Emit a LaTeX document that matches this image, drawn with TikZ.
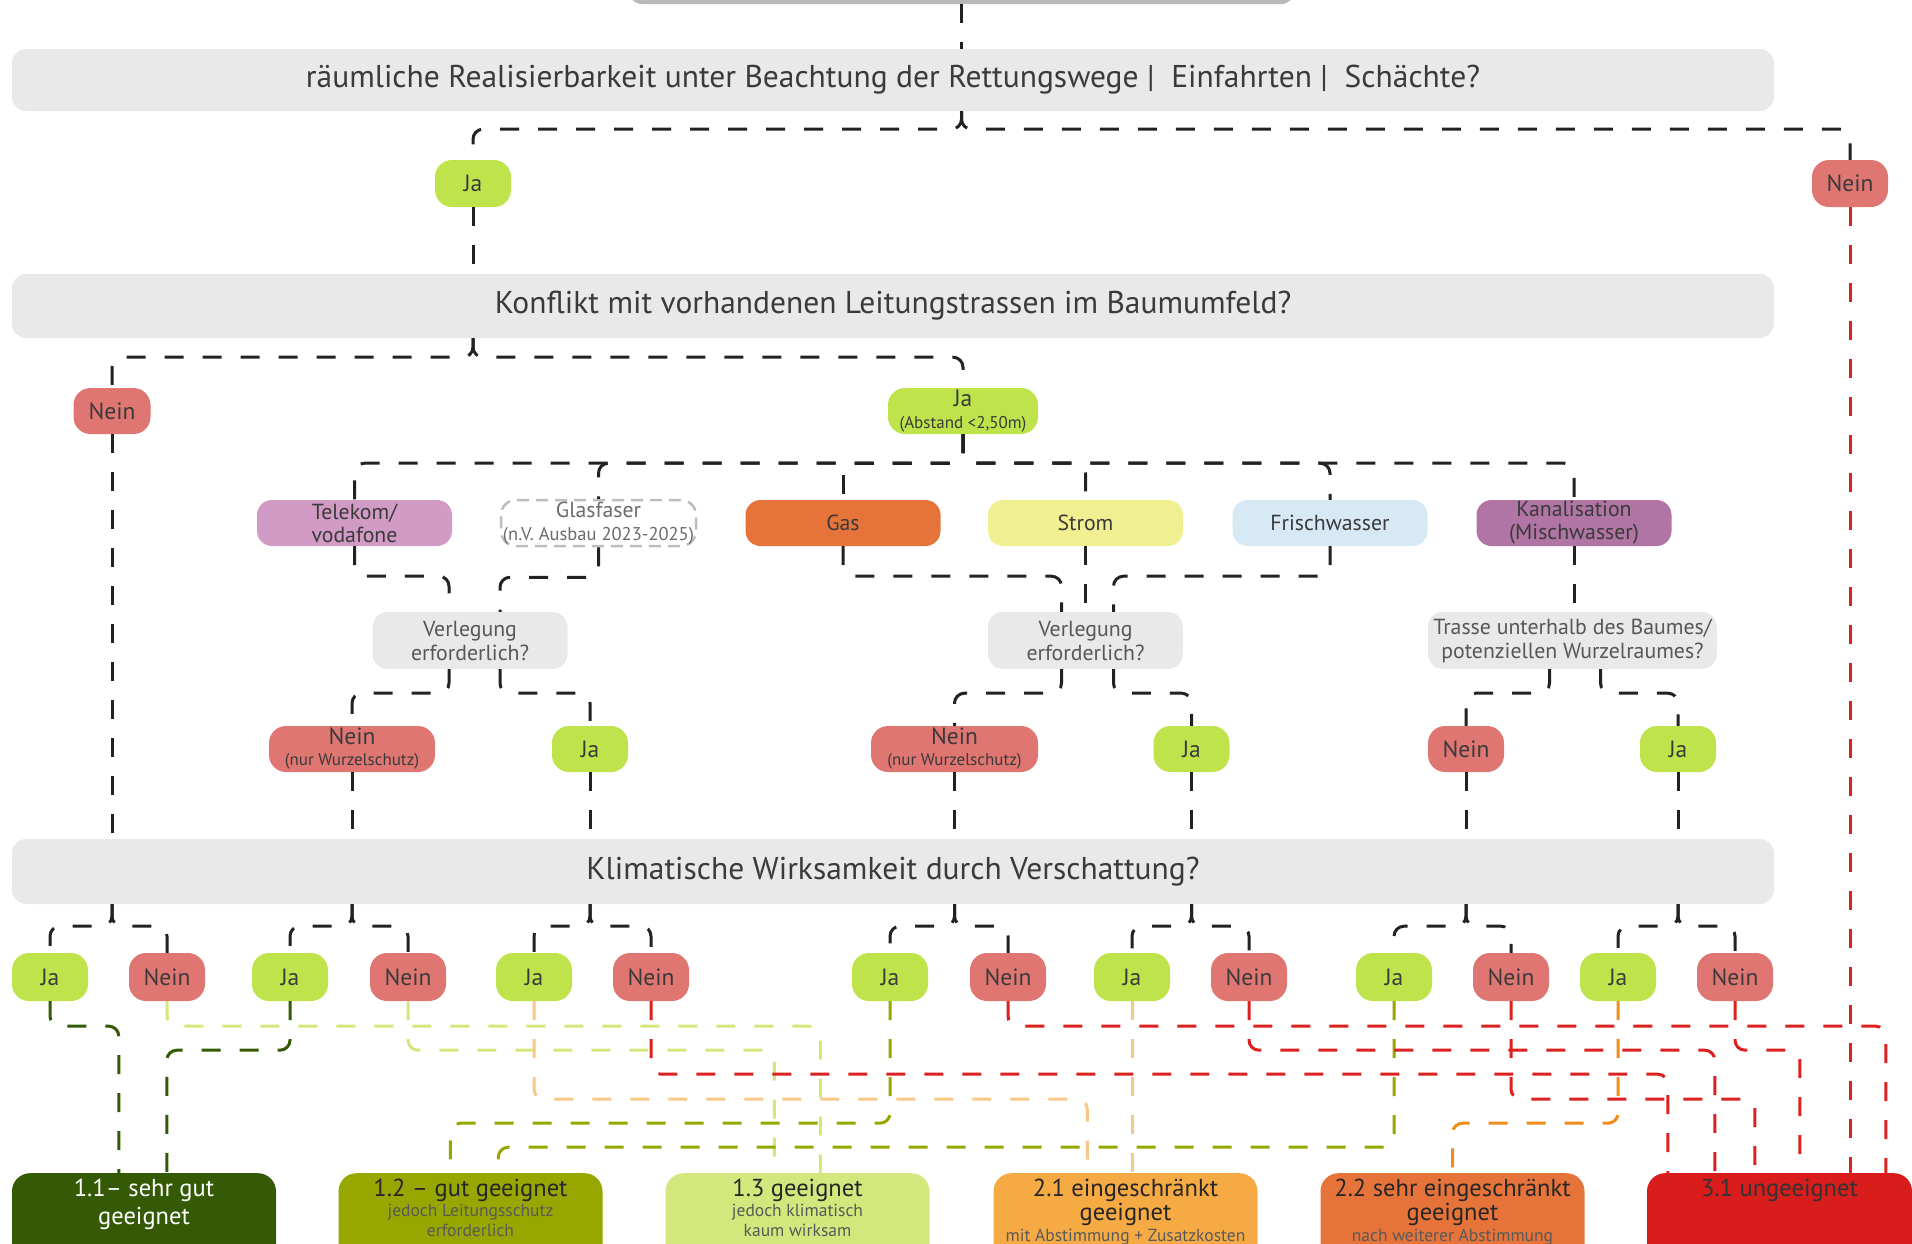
\documentclass[tikz,border=0pt]{standalone}
\usepackage{fontspec}
\setmainfont{PT Sans}
\usetikzlibrary{calc}
\definecolor{cgray}{HTML}{E9E9E9}
\definecolor{ctop}{HTML}{B8B8B8}
\definecolor{cja}{HTML}{BFE34B}
\definecolor{cnein}{HTML}{E07672}
\definecolor{ctel}{HTML}{D29BC5}
\definecolor{cgas}{HTML}{E6743A}
\definecolor{cstrom}{HTML}{F0EF91}
\definecolor{cfrisch}{HTML}{D7E9F5}
\definecolor{ckanal}{HTML}{B075A4}
\definecolor{cglas}{HTML}{BDBDBD}
\definecolor{rA}{HTML}{345A05}
\definecolor{rB}{HTML}{97A700}
\definecolor{rC}{HTML}{D2E87C}
\definecolor{rD}{HTML}{F5AA43}
\definecolor{rE}{HTML}{E6743A}
\definecolor{rF}{HTML}{D91C1C}
\definecolor{lorange}{HTML}{F8C887}
\definecolor{dorange}{HTML}{EF8C1C}
\definecolor{lred}{HTML}{DD2020}
\definecolor{cline}{HTML}{222222}
\definecolor{txt}{HTML}{3A3A3A}
\newcommand\fhead{\fontsize{31.5}{36}\selectfont}
\newcommand\fyn{\fontsize{23.5}{27}\selectfont}
\newcommand\futil{\fontsize{21.8}{25}\selectfont}
\newcommand\fsm{\fontsize{17}{20}\selectfont}
\newcommand\fressub{\fontsize{17.5}{20}\selectfont}
\newcommand\restext[2]{\parbox[t][110pt][t]{262pt}{\centering\fontsize{24.5}{#2}\selectfont\vspace*{6pt}#1\par}}
\begin{document}
\begin{tikzpicture}[x=1pt,y=-1pt,
  base/.style={rounded corners=14pt, inner sep=0pt, align=center, text=txt},
  head/.style={base, fill=cgray, minimum width=1762pt, font=\fhead},
  yn/.style={base, minimum width=76pt, minimum height=47pt, rounded corners=17pt, font=\fyn},
  yes/.style={yn, fill=cja},
  no/.style={yn, fill=cnein},
  util/.style={base, minimum width=195pt, minimum height=46pt, rounded corners=15pt, font=\futil},
  quest/.style={base, fill=cgray, minimum height=57pt, rounded corners=15pt, font=\futil, text=txt!85},
  res/.style={base, anchor=north, minimum width=264pt, rounded corners=18pt},
  conn/.style={draw=cline, line width=3pt, dash pattern=on 19pt off 19pt, rounded corners=10pt},
  cdg/.style={conn, draw=rA},
  clg/.style={conn, draw=rC},
  cog/.style={conn, draw=rB},
  clo/.style={conn, draw=lorange},
  cor/.style={conn, draw=dorange},
  cre/.style={conn, draw=lred}]
\useasboundingbox (0,0) rectangle (1912,1243);
\clip (0,0) rectangle (1912,1243);

% nodes
\node[base, fill=ctop, minimum width=667pt, minimum height=40pt] (top) at (961.5,-16) {};
\node[head, minimum height=62pt] (A) at (893,80) {räumliche Realisierbarkeit unter Beachtung der Rettungswege |\ \ Einfahrten |\ \ Schächte?};
\node[yes] (ja1) at (473,183.5) {Ja};
\node[no] (nein1) at (1850,183.5) {Nein};
\node[head, minimum height=64pt] (B) at (893,306) {Konflikt mit vorhandenen Leitungstrassen im Baumumfeld?};
\node[no, minimum width=77pt, minimum height=46pt] (nein2) at (112,411) {Nein};
\node[yes, minimum width=150pt, minimum height=46pt] (jaA) at (963,411) {Ja\\[-5pt]{\fsm (Abstand <2,50m)}};

\node[util, fill=ctel] (tel) at (354.5,523) {Telekom/\\[-2pt]vodafone};
\node[util, fill=white, draw=cglas, line width=2.5pt, dash pattern=on 12pt off 7pt, text=txt!75] (glas) at (598.5,523) {Glasfaser\\[-2pt]{\fontsize{18.5}{21}\selectfont(n.V. Ausbau 2023-2025)}};
\node[util, fill=cgas] (gas) at (843,523) {Gas};
\node[util, fill=cstrom] (strom) at (1085.5,523) {Strom};
\node[util, fill=cfrisch] (frisch) at (1330,523) {Frischwasser};
\node[util, fill=ckanal] (kanal) at (1574,523) {Kanalisation\\[-2pt](Mischwasser)};

\node[quest, minimum width=195pt] (verlL) at (470,640.5) {Verlegung\\[-1pt]erforderlich?};
\node[quest, minimum width=195pt] (verlR) at (1085.5,640.5) {Verlegung\\[-1pt]erforderlich?};
\node[quest, minimum width=289pt] (trasse) at (1572.5,640.5) {Trasse unterhalb des Baumes/\\[-1pt]potenziellen Wurzelraumes?};

\node[no, minimum width=166pt, minimum height=46pt] (nwL) at (352,749) {Nein\\[-6pt]{\fsm (nur Wurzelschutz)}};
\node[yes, minimum height=46pt] (jaL) at (590,749) {Ja};
\node[no, minimum width=167pt, minimum height=46pt] (nwR) at (954.5,749) {Nein\\[-6pt]{\fsm (nur Wurzelschutz)}};
\node[yes, minimum height=46pt] (jaR) at (1191.5,749) {Ja};
\node[no, minimum height=46pt] (nT) at (1466,749) {Nein};
\node[yes, minimum height=46pt] (jT) at (1678,749) {Ja};

\node[head, minimum height=65pt] (C) at (893,871.5) {Klimatische Wirksamkeit durch Verschattung?};

\foreach \n/\x/\s/\t in {b1j/50/yes/Ja, b1n/167/no/Nein, b2j/290/yes/Ja, b2n/408/no/Nein, b3j/534/yes/Ja, b3n/651/no/Nein, b4j/890/yes/Ja, b4n/1008/no/Nein, b5j/1132/yes/Ja, b5n/1249/no/Nein, b6j/1394/yes/Ja, b6n/1511/no/Nein, b7j/1618/yes/Ja, b7n/1735/no/Nein}
  {\node[\s, minimum height=48pt] (\n) at (\x,977) {\t};}

\node[res, fill=rA, text=white] (r11) at (144,1173) {\restext{1.1– sehr gut\\geeignet}{28}};
\node[res, fill=rB, text=black!85] (r12) at (470.5,1173) {\restext{1.2 – gut geeignet\\{\fressub\color{black!65}jedoch Leitungsschutz\\erforderlich}}{20}};
\node[res, fill=rC, text=black!85] (r13) at (797.5,1173) {\restext{1.3 geeignet\\{\fressub\color{black!65}jedoch klimatisch\\kaum wirksam}}{20}};
\node[res, fill=rD, text=black!85] (r21) at (1125.5,1173) {\restext{2.1 eingeschränkt\\geeignet\\{\fressub\color{black!65}mit Abstimmung + Zusatzkosten}}{21.5}};
\node[res, fill=rE, text=black!85] (r22) at (1452.5,1173) {\restext{2.2 sehr eingeschränkt\\geeignet\\{\fressub\color{black!65}nach weiterer Abstimmung}}{21.5}};
\node[res, fill=rF, text=black!80, minimum width=265pt] (r31) at (1779.5,1173) {\restext{3.1 ungeeignet}{28}};

% black connectors
\draw[conn] (top.south) -- (top.south |- A.north);
\draw[conn] (top.south |- A.south) -- ++(0,18) -| (ja1.north);
\draw[conn] (top.south |- A.south) -- ++(0,18) -| (nein1.north);
\draw[conn] (ja1.south) -- (ja1.south |- B.north);
\draw[conn] (ja1.south |- B.south) -- ++(0,19) -| (nein2.north);
\draw[conn] (ja1.south |- B.south) -- ++(0,19) -| (jaA.north);
\draw[conn] (nein2.south) -- (nein2.south |- C.north);
\foreach \u in {tel,glas,gas,strom,frisch,kanal}
  {\draw[conn] (jaA.south) -- ++(0,29) -| (\u.north);}
\draw[conn] (tel.south) -- ++(0,30) -| ($(verlL.north)+(-21,0)$);
\draw[conn] (glas.south) -- ++(0,30) -| ($(verlL.north)+(30,0)$);
\draw[conn] (gas.south) -- ++(0,30) -| ($(verlR.north)+(-24,0)$);
\draw[conn] (strom.south) -- (verlR.north);
\draw[conn] (frisch.south) -- ++(0,30) -| ($(verlR.north)+(28,0)$);
\draw[conn] (kanal.south) -- (kanal.south |- trasse.north);
\draw[conn] ($(verlL.south)+(-21,0)$) -- ++(0,24) -| (nwL.north);
\draw[conn] ($(verlL.south)+(30,0)$) -- ++(0,24) -| (jaL.north);
\draw[conn] ($(verlR.south)+(-24,0)$) -- ++(0,24) -| (nwR.north);
\draw[conn] ($(verlR.south)+(28,0)$) -- ++(0,24) -| (jaR.north);
\draw[conn] ($(trasse.south)+(-23,0)$) -- ++(0,24) -| (nT.north);
\draw[conn] ($(trasse.south)+(28,0)$) -- ++(0,24) -| (jT.north);
\foreach \p in {nwL,jaL,nwR,jaR,nT,jT}
  {\draw[conn] (\p.south) -- (\p.south |- C.north);}
\foreach \p/\a/\b in {nein2/b1j/b1n, nwL/b2j/b2n, jaL/b3j/b3n, nwR/b4j/b4n, jaR/b5j/b5n, nT/b6j/b6n, jT/b7j/b7n}
  {\draw[conn] (\p.south |- C.south) -- ++(0,22) -| (\a.north);
   \draw[conn] (\p.south |- C.south) -- ++(0,22) -| (\b.north);}

% coloured connectors
\draw[cdg] (b1j.south) -- ++(0,25) -| ($(r11.north west)+(107,0)$);
\draw[cdg] (b2j.south) -- ++(0,49) -| ($(r11.north west)+(155,0)$);
\draw[clg] (b1n.south) -- ++(0,25) -| ($(r13.north west)+(155,0)$);
\draw[clg] (b2n.south) -- ++(0,49) -| ($(r13.north west)+(109,0)$);
\draw[clo] (b3j.south) -- ++(0,98) -| ($(r21.north west)+(94,0)$);
\draw[clo] (b5j.south) -- (b5j.south |- r21.north);
\draw[cog] (b4j.south) -- ++(0,122) -| ($(r12.north west)+(112,0)$);
\draw[cog] (b6j.south) -- ++(0,146) -| ($(r12.north west)+(160,0)$);
\draw[cor] (b7j.south) -- ++(0,122) -| (r22.north);
\draw[cre] (b3n.south) -- ++(0,73) -| ($(r31.north west)+(21,0)$);
\draw[cre] (b4n.south) -- ++(0,25) -| ($(r31.north west)+(239,0)$);
\draw[cre] (b5n.south) -- ++(0,49) -| ($(r31.north west)+(68,0)$);
\draw[cre] (b6n.south) -- ++(0,98) -| ($(r31.north west)+(108,0)$);
\draw[cre] (b7n.south) -- ++(0,49) -| ($(r31.north west)+(153,0)$);
\draw[cre] (nein1.south) -- (nein1.south |- r31.north);
\end{tikzpicture}
\end{document}
